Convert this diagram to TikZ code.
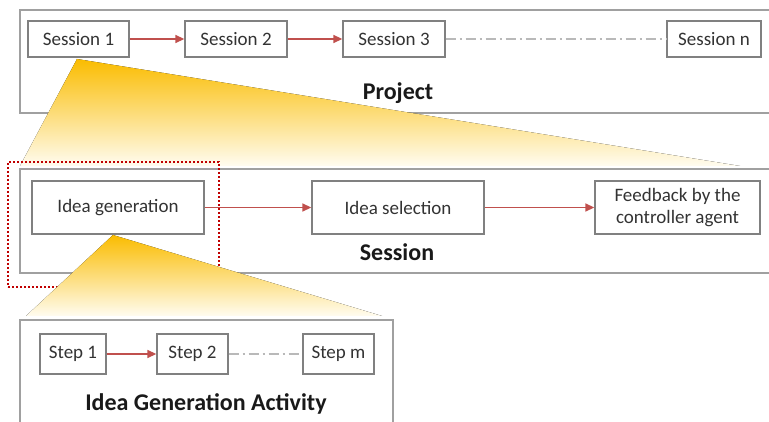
\documentclass[tikz,border=0pt]{standalone}
\usepackage{fontspec}
\setmainfont{Carlito}
\usetikzlibrary{arrows.meta}
\definecolor{boxgray}{RGB}{128,128,128}
\definecolor{framegray}{RGB}{160,160,160}
\definecolor{arrowred}{RGB}{192,80,77}
\definecolor{dotred}{RGB}{192,0,0}
\definecolor{dashgray}{RGB}{185,185,185}
\definecolor{funneltop}{RGB}{250,188,0}
\definecolor{funnelbot}{RGB}{255,252,240}
\tikzset{
  stepbox/.style={draw=boxgray, line width=1.3pt, fill=white, inner sep=0pt,
    font=\fontsize{19}{22.5}\selectfont, text=black!80, align=center},
  framebox/.style={draw=framegray, line width=1.8pt, inner sep=0pt},
  flow/.style={draw=arrowred, line width=1.4pt, -{Triangle[length=9pt,width=8pt]}},
  ellipsis/.style={draw=dashgray, line width=1.2pt, dash pattern=on 10pt off 4pt on 2pt off 4pt},
  funnel/.style={top color=funneltop, bottom color=funnelbot, draw=none},
  zoomframe/.style={draw=dotred, line width=2pt, dash pattern=on 2pt off 2pt},
  title/.style={font=\fontsize{24}{28}\selectfont\bfseries, text=black!90},
}
\begin{document}
\begin{tikzpicture}[x=1pt, y=-1pt]
\useasboundingbox (0,0) rectangle (769,422);
\clip (0,0) rectangle (769,422);
% outer frames
\node[framebox, minimum width=770pt, minimum height=103pt] (project) at (405,61.5) {};
\node[framebox, minimum width=770pt, minimum height=104pt] (session) at (405,221) {};
\node[framebox, minimum width=373pt, minimum height=120pt] (activity) at (206.5,380) {};
% funnel 1
\coordinate (f1a) at (77,59);
\coordinate (f1l) at (20,166);
\coordinate (f1r) at (740,166);
\fill[funnel] (f1a) -- (f1r) -- (f1l) -- cycle;
% dotted zoom frame
\node[zoomframe, minimum width=211pt, minimum height=125pt, inner sep=0pt] (zoomsel) at (113.5,224.5) {};
% funnel 2
\coordinate (f2a) at (113,235);
\coordinate (f2l) at (26,316);
\coordinate (f2r) at (382,316);
\fill[funnel] (f2a) -- (f2r) -- (f2l) -- cycle;
% project row
\node[stepbox, minimum width=101pt, minimum height=36pt] (s1) at (78.5,39) {Session 1};
\node[stepbox, minimum width=102pt, minimum height=36pt] (s2) at (236,39) {Session 2};
\node[stepbox, minimum width=102pt, minimum height=36pt] (s3) at (394,39) {Session 3};
\node[stepbox, minimum width=94pt, minimum height=36pt] (sn) at (714,39) {Session n};
\draw[flow] (s1) -- (s2);
\draw[flow] (s2) -- (s3);
\draw[ellipsis] (s3) -- (sn);
\node[title] (projecttitle) at (398,93) {Project};
% session row
\node[stepbox, minimum width=172pt, minimum height=53pt] (gen) at (118,207.5) {Idea generation};
\node[stepbox, minimum width=172pt, minimum height=53pt] (sel) at (398,207.5) {Idea selection};
\node[stepbox, minimum width=165pt, minimum height=53pt] (fb) at (677.5,207.5) {Feedback by the\\controller agent};
\draw[flow] (gen) -- (sel);
\draw[flow] (sel) -- (fb);
\node[title] (sessiontitle) at (397,252) {Session};
% activity row
\node[stepbox, minimum width=66pt, minimum height=40pt] (st1) at (73,354) {Step 1};
\node[stepbox, minimum width=71pt, minimum height=40pt] (st2) at (192.5,354) {Step 2};
\node[stepbox, minimum width=71pt, minimum height=40pt] (stm) at (338.5,354) {Step m};
\draw[flow] (st1) -- (st2);
\draw[ellipsis] (st2) -- (stm);
\node[title] (activitytitle) at (206,404) {Idea Generation Activity};
\end{tikzpicture}
\end{document}
